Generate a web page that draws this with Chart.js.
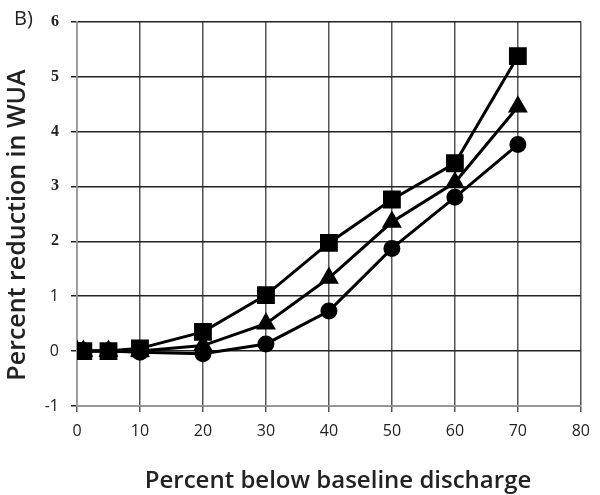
<!DOCTYPE html>
<html><head><meta charset="utf-8">
<script src="https://cdn.jsdelivr.net/npm/chart.js@4"></script>
<style>html,body{margin:0;padding:0;background:#fff}#wrap{width:600px;height:495px;position:relative}</style>
</head><body><div id="wrap"><canvas id="c" width="600" height="495"></canvas></div>
<script>
const xValues = [0, 1, 5, 10, 20, 30, 40, 50, 60, 70];
const squareSeries = [0, 0, 0, 0.05, 0.35, 1.02, 1.97, 2.76, 3.42, 5.37];
const triangleSeries = [0, 0, 0, 0, 0.1, 0.5, 1.33, 2.35, 3.07, 4.45];
const circleSeries = [0, 0, 0, -0.02, -0.05, 0.13, 0.73, 1.87, 2.8, 3.76];
const xTicks = [0, 10, 20, 30, 40, 50, 60, 70, 80];
const yTicks = [-1, 0, 1, 2, 3, 4, 5, 6];
const xTitle = 'Percent below baseline discharge';
const yTitle = 'Percent reduction in WUA';
const panelText = 'B)';

const toPts = arr => xValues.map((x, i) => ({x, y: arr[i]}));
const ds = (data, style, r) => ({
  data: toPts(data), borderColor: '#000', backgroundColor: '#000', borderWidth: 3,
  pointStyle: style, pointRadius: r, pointHoverRadius: r, fill: false, tension: 0
});

const labels = {
  id: 'labels',
  afterDraw(chart) {
    const ctx = chart.ctx;
    ctx.save();
    ctx.fillStyle = '#222';
    ctx.font = '20px "Open Sans", sans-serif';
    ctx.textBaseline = 'middle';
    ctx.textAlign = 'left';
    ctx.fillText(panelText, 14, 19);
    ctx.font = '600 24px "Open Sans", sans-serif';
    ctx.textAlign = 'center';
    ctx.fillText(xTitle, 338, 481);
    ctx.translate(18, 225);
    ctx.rotate(-Math.PI / 2);
    ctx.font = '600 25px "Open Sans", sans-serif';
    ctx.fillText(yTitle, 0, 0);
    ctx.restore();
  }
};

new Chart(document.getElementById('c'), {
  type: 'line',
  data: { datasets: [ ds(circleSeries, 'circle', 7), ds(triangleSeries, 'triangle', 8.5), ds(squareSeries, 'rect', 10.5) ] },
  options: {
    responsive: false, animation: false,
    layout: { padding: { left: 0, right: 17, top: 21, bottom: 0 } },
    plugins: { legend: { display: false }, tooltip: { enabled: false } },
    scales: {
      x: {
        type: 'linear', min: 0, max: 80,
        afterBuildTicks: s => { s.ticks = xTicks.map(v => ({value: v})); },
        grid: { color: '#555', lineWidth: 1.5, tickLength: 6 },
        border: { color: '#999', width: 1.5 },
        ticks: { color: '#222', font: { family: '"Open Sans"', size: 16 }, padding: 10, maxRotation: 0 },
        title: { display: false, text: xTitle },
        afterFit: s => { s.height = 89; }
      },
      y: {
        type: 'linear', min: -1, max: 6,
        afterBuildTicks: s => { s.ticks = yTicks.map(v => ({value: v})); },
        grid: { color: '#222', lineWidth: 1.5, tickLength: 6 },
        border: { color: '#999', width: 1.5 },
        ticks: {
          color: '#222', padding: 12,
          font: c => (c.tick && c.tick.value >= 2)
            ? { family: '"Liberation Serif"', size: 16, weight: 'bold' }
            : { family: '"Open Sans"', size: 16 }
        },
        title: { display: false, text: yTitle },
        afterFit: s => { s.width = 77; }
      }
    }
  },
  plugins: [labels]
});
</script></body></html>
